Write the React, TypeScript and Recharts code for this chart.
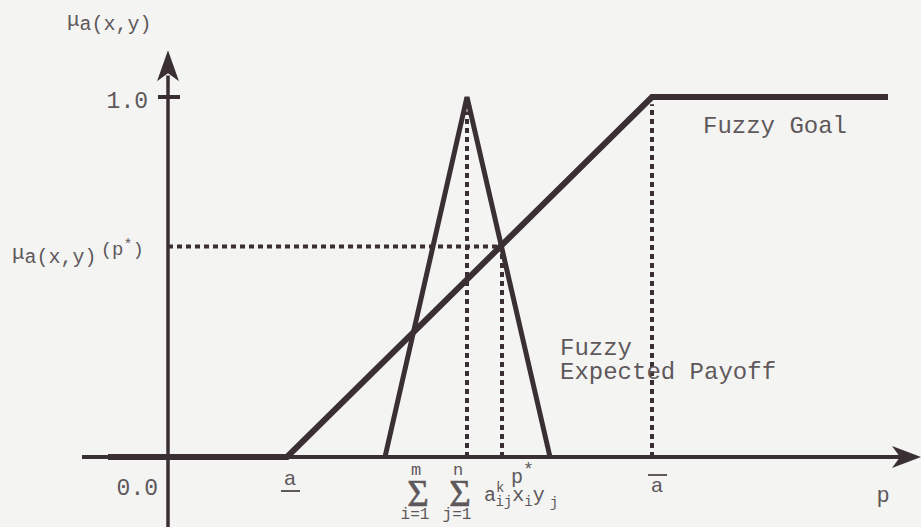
import React from "react"
import {
  LineChart,
  Line,
  XAxis,
  YAxis,
  ReferenceLine,
  ReferenceDot,
} from "recharts"

// membership functions, p on the horizontal axis, mu on the vertical one
const goalP = [-1.2, 2.38, 9.68, 14.4]
const goalMu = [0, 0, 1, 1]
const payoffP = [4.34, 5.98, 7.64]
const payoffMu = [0, 1, 0]

// marked points on the p axis
const aLow = 2.38
const peak = 5.98
const pStar = 6.68
const aHigh = 9.68
const muStar = 0.585
const axisTicks = [aLow, peak, pStar, aHigh]

const goalData = goalP.map((p, i) => ({ p, mu: goalMu[i] }))
const payoffData = payoffP.map((p, i) => ({ p, mu: payoffMu[i] }))

const INK = "#3a3033"
const TEXT = "#5e585b"
const MONO = "'Liberation Mono', 'DejaVu Sans Mono', monospace"
const SERIF = "'Liberation Serif', 'DejaVu Serif', serif"

// stacked sum sign: upper limit, sigma, lower limit
const SumSign = ({ x, y, top, bottom }: any) => (
  <text x={x} y={y + 18} textAnchor="middle" fontFamily={MONO} fontSize={17} fill={TEXT}>
    <tspan x={x}>{top}</tspan>
    <tspan x={x + 2} dy={31} fontFamily={SERIF} fontSize={37} stroke={TEXT} strokeWidth={0.6}>
      Σ
    </tspan>
    <tspan x={x - 1} dy={13} fontSize={16}>
      {bottom}
    </tspan>
  </text>
)

const XTick = (props: any) => {
  const { x, y, payload } = props
  const v = payload.value
  if (v === aLow) {
    return (
      <g>
        <text x={x + 3} y={y + 28} textAnchor="middle" fontFamily={MONO} fontSize={21} fill={TEXT}>
          a
        </text>
        <line x1={x - 6} x2={x + 13} y1={y + 34} y2={y + 34} stroke={TEXT} strokeWidth={2} />
      </g>
    )
  }
  if (v === aHigh) {
    return (
      <g>
        <line x1={x - 4} x2={x + 15} y1={y + 18} y2={y + 18} stroke={TEXT} strokeWidth={2} />
        <text x={x + 5} y={y + 35} textAnchor="middle" fontFamily={MONO} fontSize={21} fill={TEXT}>
          a
        </text>
      </g>
    )
  }
  if (v === pStar) {
    return (
      <text x={x + 9} y={y + 26} fontFamily={MONO} fontSize={20} fill={TEXT}>
        p
        <tspan dy={-8} fontSize={18}>
          *
        </tspan>
      </text>
    )
  }
  if (v === peak) {
    return (
      <g>
        <SumSign x={x - 51} y={y} top="m" bottom="i=1" />
        <SumSign x={x - 9} y={y} top="n" bottom="j=1" />
        <text x={x + 17} y={y + 44} fontFamily={MONO} fontSize={20} fill={TEXT}>
          a
          <tspan fontSize={14} dy={-9}>k</tspan>
          <tspan fontSize={14} dx={-9} dy={14}>ij</tspan>
          <tspan dy={-5}>x</tspan>
          <tspan fontSize={14} dy={5}>i</tspan>
          <tspan dy={-5}>y</tspan>
          <tspan fontSize={14} dx={5} dy={6}>j</tspan>
        </text>
      </g>
    )
  }
  return null
}

const xArrow = (props: any) => {
  const { cx, cy } = props
  return (
    <g>
      <path d={`M${cx},${cy} L${cx - 29},${cy - 11} L${cx - 21},${cy} L${cx - 29},${cy + 11} Z`} fill={INK} />
      <text x={cx - 38} y={cy + 45} textAnchor="middle" fontFamily={MONO} fontSize={22} fill={TEXT}>
        p
      </text>
    </g>
  )
}

const yArrow = (props: any) => {
  const { cx, cy } = props
  return (
    <g>
      <path d={`M${cx},${cy} L${cx - 11},${cy + 31} L${cx},${cy + 23} L${cx + 11},${cy + 31} Z`} fill={INK} />
      <text x={cx - 101} y={cy - 24} fontFamily={MONO} fontSize={20} fill={TEXT}>
        <tspan fontSize={21}>μ</tspan>
        <tspan dy={4}>a(x,y)</tspan>
      </text>
    </g>
  )
}

const textAt = (lines: string[], size: number, lead: number) => (props: any) => {
  const { cx, cy } = props
  return (
    <text x={cx} y={cy} fontFamily={MONO} fontSize={size} fill={TEXT}>
      {lines.map((s, i) => (
        <tspan key={i} x={cx} dy={i === 0 ? 0 : lead}>
          {s}
        </tspan>
      ))}
    </text>
  )
}

const zeroLabel = (props: any) => (
  <text x={props.cx - 10} y={props.cy + 38} textAnchor="end" fontFamily={MONO} fontSize={23} fill={TEXT}>
    0.0
  </text>
)

const oneLabel = (props: any) => (
  <text x={props.cx - 20} y={props.cy + 11} textAnchor="end" fontFamily={MONO} fontSize={23} fill={TEXT}>
    1.0
  </text>
)

const muStarLabel = (props: any) => (
  <text x={props.cx - 156} y={props.cy + 13} fontFamily={MONO} fontSize={20} fill={TEXT}>
    <tspan fontSize={21}>μ</tspan>
    <tspan dy={4}>a(x,y)</tspan>
    <tspan dx={4} dy={-8} fontSize={19}>(p</tspan>
    <tspan dy={-6} fontSize={15}>*</tspan>
    <tspan dy={6} fontSize={19}>)</tspan>
  </text>
)

const dotted = { stroke: INK, strokeWidth: 4, strokeDasharray: "5 4" }

export default function App() {
  return (
    <div
      style={{
        position: "absolute",
        left: 0,
        top: 0,
        width: 921,
        height: 527,
        background: "#f4f4f3",
      }}
    >
      <LineChart width={921} height={527} margin={{ top: 50, right: 0, bottom: 0, left: 0 }}>
        <XAxis
          dataKey="p"
          type="number"
          domain={[-3.36, 15.06]}
          ticks={axisTicks}
          tick={<XTick />}
          axisLine={false}
          tickLine={false}
          tickSize={0}
          tickMargin={0}
          height={70}
          interval={0}
        />
        <YAxis type="number" domain={[0, 1.1306]} hide />

        {/* axes */}
        <ReferenceLine
          segment={[{ x: -1.72, y: 0 }, { x: 14.7, y: 0 }]}
          stroke={INK}
          strokeWidth={4}
          ifOverflow="visible"
        />
        <ReferenceLine
          segment={[{ x: 0, y: -0.2 }, { x: 0, y: 1.06 }]}
          stroke={INK}
          strokeWidth={3.5}
          ifOverflow="visible"
        />
        <ReferenceLine
          segment={[{ x: -0.2, y: 1 }, { x: 0.24, y: 1 }]}
          stroke={INK}
          strokeWidth={4}
          ifOverflow="visible"
        />

        {/* guide lines */}
        <ReferenceLine segment={[{ x: 0, y: muStar }, { x: pStar - 0.1, y: muStar }]} {...dotted} />
        <ReferenceLine segment={[{ x: peak, y: 0 }, { x: peak, y: 0.96 }]} {...dotted} />
        <ReferenceLine segment={[{ x: pStar, y: 0 }, { x: pStar, y: muStar }]} {...dotted} />
        <ReferenceLine segment={[{ x: aHigh, y: 0 }, { x: aHigh, y: 0.98 }]} {...dotted} />

        <Line
          data={goalData}
          dataKey="mu"
          type="linear"
          stroke={INK}
          strokeWidth={6}
          dot={false}
          strokeLinejoin="miter"
          isAnimationActive={false}
        />
        <Line
          data={payoffData}
          dataKey="mu"
          type="linear"
          stroke={INK}
          strokeWidth={5}
          dot={false}
          strokeLinejoin="miter"
          isAnimationActive={false}
        />

        <ReferenceDot x={15.06} y={0} r={0} shape={xArrow} ifOverflow="visible" />
        <ReferenceDot x={0} y={1.13} r={0} shape={yArrow} ifOverflow="visible" />
        <ReferenceDot x={0} y={0} r={0} shape={zeroLabel} ifOverflow="visible" />
        <ReferenceDot x={0} y={1} r={0} shape={oneLabel} ifOverflow="visible" />
        <ReferenceDot x={0} y={muStar} r={0} shape={muStarLabel} ifOverflow="visible" />
        <ReferenceDot x={10.7} y={0.9} r={0} shape={textAt(["Fuzzy Goal"], 24, 0)} ifOverflow="visible" />
        <ReferenceDot
          x={7.84}
          y={0.283}
          r={0}
          shape={textAt(["Fuzzy", "Expected Payoff"], 24, 24)}
          ifOverflow="visible"
        />
      </LineChart>
    </div>
  )
}
